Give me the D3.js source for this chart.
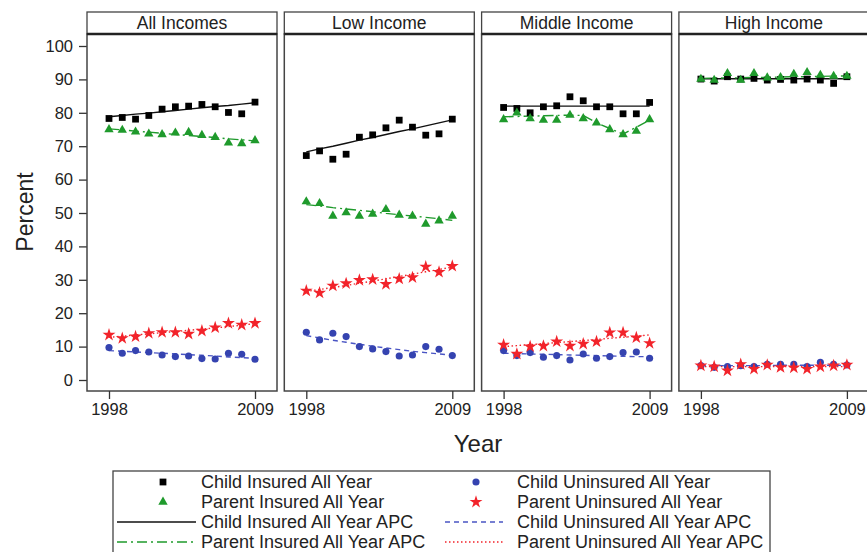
<!DOCTYPE html>
<html>
<head>
<meta charset="utf-8">
<script src="https://cdn.jsdelivr.net/npm/d3@7"></script>
<style>
  body { margin: 0; background: #fff; }
  text { font-family: "Liberation Sans", Arial, sans-serif; fill: #222; }
</style>
</head>
<body>
<svg id="chart" width="867" height="552"></svg>
<script>
// data
const years = [1998, 1999, 2000, 2001, 2002, 2003, 2004, 2005, 2006, 2007, 2008, 2009];
const panels = ["All Incomes", "Low Income", "Middle Income", "High Income"];
const yTicks = [0, 10, 20, 30, 40, 50, 60, 70, 80, 90, 100];
const xTicks = [1998, 2009];

const childIns = [
  [78.3, 78.6, 78.1, 79.2, 81.1, 81.8, 82.0, 82.5, 81.8, 80.1, 79.7, 83.2],
  [67.2, 68.6, 66.1, 67.6, 72.7, 73.4, 75.5, 77.8, 75.7, 73.3, 73.7, 78.1],
  [81.6, 81.3, 80.0, 81.8, 82.1, 84.8, 83.6, 81.8, 81.8, 79.7, 79.7, 83.1],
  [90.1, 89.5, 90.8, 90.1, 90.3, 89.8, 90.0, 89.8, 90.1, 89.8, 88.8, 90.8]
];
const parentIns = [
  [75.0, 74.8, 74.3, 73.7, 73.5, 74.0, 74.2, 73.3, 72.7, 71.0, 70.8, 71.7],
  [53.4, 52.9, 49.1, 50.1, 49.1, 49.7, 51.1, 49.4, 49.1, 46.7, 47.7, 49.1],
  [78.0, 80.0, 78.3, 77.8, 77.8, 79.3, 78.3, 77.0, 75.0, 73.5, 74.5, 78.0],
  [90.1, 89.8, 91.8, 89.8, 91.8, 90.5, 90.6, 91.6, 92.1, 91.3, 91.0, 91.0]
];
const childUnins = [
  [9.7, 8.0, 8.8, 8.4, 7.5, 7.0, 7.2, 6.4, 6.3, 8.0, 7.7, 6.2],
  [14.3, 12.0, 14.0, 13.0, 10.0, 9.3, 8.5, 7.2, 7.5, 10.0, 9.2, 7.3],
  [8.8, 7.3, 8.2, 6.8, 7.3, 6.0, 7.8, 6.5, 7.0, 8.2, 8.4, 6.5],
  [4.3, 3.8, 4.0, 4.3, 4.0, 4.7, 4.7, 4.7, 4.0, 5.3, 4.7, 4.5]
];
const parentUnins = [
  [13.5, 12.5, 13.0, 14.0, 14.3, 14.3, 13.8, 14.7, 15.7, 17.0, 16.5, 17.0],
  [26.7, 26.1, 28.2, 28.9, 29.9, 30.1, 28.7, 30.3, 30.7, 33.9, 32.3, 34.1],
  [10.5, 7.8, 10.0, 10.2, 11.5, 10.2, 10.8, 11.5, 14.2, 14.2, 12.7, 11.0],
  [4.3, 4.0, 2.8, 4.7, 3.3, 4.5, 3.8, 3.7, 3.3, 4.0, 4.3, 4.5]
];

// APC fitted lines
const childInsApc = [
  [78.8, 79.2, 79.6, 79.9, 80.3, 80.7, 81.1, 81.5, 81.9, 82.2, 82.6, 83.0],
  [68.3, 69.2, 70.0, 70.9, 71.8, 72.6, 73.5, 74.4, 75.2, 76.1, 77.0, 77.9],
  [82.0, 82.0, 82.0, 82.0, 82.0, 82.0, 82.0, 82.0, 82.0, 82.0, 82.0, 82.0],
  [90.2, 90.2, 90.2, 90.2, 90.2, 90.2, 90.2, 90.2, 90.2, 90.2, 90.2, 90.2]
];
const parentInsApc = [
  [75.2, 74.9, 74.5, 74.2, 73.9, 73.5, 73.2, 72.9, 72.6, 72.2, 71.9, 71.6],
  [52.5, 52.1, 51.6, 51.2, 50.8, 50.4, 49.9, 49.5, 49.1, 48.7, 48.3, 47.8],
  [78.8, 78.9, 79.0, 79.1, 79.2, 79.3, 79.2, 77.0, 75.3, 73.6, 75.7, 77.8],
  [90.3, 90.4, 90.4, 90.5, 90.6, 90.6, 90.7, 90.8, 90.8, 90.9, 91.0, 91.0]
];
const childUninsApc = [
  [8.8, 8.6, 8.4, 8.2, 8.0, 7.8, 7.6, 7.4, 7.2, 6.9, 6.7, 6.5],
  [13.3, 12.6, 11.9, 11.3, 10.7, 10.1, 9.6, 9.1, 8.6, 8.2, 7.8, 7.4],
  [8.0, 7.9, 7.8, 7.7, 7.6, 7.5, 7.4, 7.3, 7.2, 7.1, 7.0, 7.0],
  [4.3, 4.3, 4.3, 4.3, 4.3, 4.3, 4.4, 4.4, 4.4, 4.4, 4.4, 4.4]
];
const parentUninsApc = [
  [12.8, 13.1, 13.5, 13.8, 14.2, 14.5, 14.9, 15.2, 15.6, 16.0, 16.4, 16.9],
  [26.5, 27.1, 27.7, 28.3, 29.0, 29.6, 30.3, 31.0, 31.7, 32.4, 33.1, 33.8],
  [10.0, 10.3, 10.6, 10.9, 11.2, 11.5, 11.8, 12.1, 12.5, 12.8, 13.1, 13.5],
  [4.0, 4.0, 4.0, 4.0, 4.0, 4.0, 4.0, 4.0, 4.0, 4.0, 4.0, 4.0]
];

/* series styles */
const series = [
  { name: "Child Insured All Year", pts: childIns, fit: childInsApc, color: "#000", sym: d3.symbolSquare, size: 46, lineColor: "#111", dash: null },
  { name: "Parent Insured All Year", pts: parentIns, fit: parentInsApc, color: "#1f9a2c", sym: d3.symbolTriangle, size: 38, lineColor: "#1f9a2c", dash: "10,4,2,4" },
  { name: "Child Uninsured All Year", pts: childUnins, fit: childUninsApc, color: "#3543b0", sym: d3.symbolCircle, size: 40, lineColor: "#4a55c4", dash: "5,4" },
  { name: "Parent Uninsured All Year", pts: parentUnins, fit: parentUninsApc, color: "#f2232a", sym: d3.symbolStar, size: 52, lineColor: "#f2232a", dash: "1.5,2.5" }
];

const svg = d3.select("#chart");
const panelLeft0 = 87, panelStep = 197.3, panelW = 190;
const stripTop = 12, stripBot = 34, plotBot = 391;

const y = d3.scaleLinear().domain([0, 100]).range([380, 46]);

// y axis on the first panel
svg.append("g")
  .attr("transform", `translate(${panelLeft0},0)`)
  .call(d3.axisLeft(y).tickValues(yTicks).tickSize(8).tickPadding(6))
  .call(g => g.select(".domain").remove())
  .call(g => g.selectAll("line").attr("stroke", "#333").attr("stroke-width", 1.3))
  .call(g => g.selectAll("text").style("font-size", "16.5px").attr("fill", "#222"));

panels.forEach((title, i) => {
  const left = panelLeft0 + i * panelStep;
  const x = d3.scaleLinear().domain([1998, 2009]).range([left + 22, left + 168]);
  const g = svg.append("g");

  // strip
  g.append("rect")
    .attr("x", left).attr("y", stripTop)
    .attr("width", panelW).attr("height", stripBot - stripTop)
    .attr("fill", "#fff").attr("stroke", "#444").attr("stroke-width", 1.3);
  g.append("text")
    .attr("x", left + panelW / 2).attr("y", stripTop + 17)
    .attr("text-anchor", "middle")
    .style("font-size", "17.5px")
    .text(title);

  // frame
  g.append("rect")
    .attr("x", left).attr("y", stripBot)
    .attr("width", panelW).attr("height", plotBot - stripBot)
    .attr("fill", "none").attr("stroke", "#444").attr("stroke-width", 1.5);
  g.append("line")
    .attr("x1", left).attr("x2", left + panelW)
    .attr("y1", stripBot).attr("y2", stripBot)
    .attr("stroke", "#222").attr("stroke-width", 2.5);

  // x axis
  g.append("g")
    .attr("transform", `translate(0,${plotBot})`)
    .call(d3.axisBottom(x).tickValues(xTicks).tickFormat(d3.format("d")).tickSize(8).tickPadding(4))
    .call(a => a.select(".domain").remove())
    .call(a => a.selectAll("line").attr("stroke", "#333").attr("stroke-width", 1.3))
    .call(a => a.selectAll("text").style("font-size", "16.5px").attr("fill", "#222"));

  const line = d3.line().x((d, k) => x(years[k])).y(d => y(d));

  series.forEach(s => {
    g.append("path")
      .attr("d", line(s.fit[i]))
      .attr("fill", "none")
      .attr("stroke", s.lineColor)
      .attr("stroke-width", 1.4)
      .attr("stroke-dasharray", s.dash);
  });

  series.forEach(s => {
    g.selectAll(null)
      .data(s.pts[i])
      .join("path")
      .attr("transform", (d, k) => `translate(${x(years[k])},${y(d)})`)
      .attr("d", d3.symbol().type(s.sym).size(s.size))
      .attr("fill", s.color);
  });
});

// axis titles
svg.append("text")
  .attr("x", 478).attr("y", 452)
  .attr("text-anchor", "middle")
  .style("font-size", "24px")
  .text("Year");
svg.append("text")
  .attr("transform", "translate(33,212) rotate(-90)")
  .attr("text-anchor", "middle")
  .style("font-size", "23px")
  .text("Percent");

// legend
const leg = svg.append("g");
leg.append("rect")
  .attr("x", 113).attr("y", 471)
  .attr("width", 657).attr("height", 100)
  .attr("fill", "#fff").attr("stroke", "#444").attr("stroke-width", 1.3);

const rowY = [482, 502, 522, 542];
const cols = [
  { sx: 163, l1: 117, l2: 196, tx: 201, items: [series[0], series[1]] },
  { sx: 476, l1: 445, l2: 503, tx: 517, items: [series[2], series[3]] }
];
cols.forEach(c => {
  c.items.forEach((s, j) => {
    leg.append("path")
      .attr("transform", `translate(${c.sx},${rowY[j]})`)
      .attr("d", d3.symbol().type(s.sym).size(s.size))
      .attr("fill", s.color);
    leg.append("text")
      .attr("x", c.tx).attr("y", rowY[j] + 6)
      .style("font-size", "18px")
      .text(s.name);
    leg.append("line")
      .attr("x1", c.l1).attr("x2", c.l2)
      .attr("y1", rowY[j + 2]).attr("y2", rowY[j + 2])
      .attr("stroke", s.lineColor)
      .attr("stroke-width", 1.4)
      .attr("stroke-dasharray", s.dash);
    leg.append("text")
      .attr("x", c.tx).attr("y", rowY[j + 2] + 6)
      .style("font-size", "18px")
      .text(s.name + " APC");
  });
});
</script>
</body>
</html>
